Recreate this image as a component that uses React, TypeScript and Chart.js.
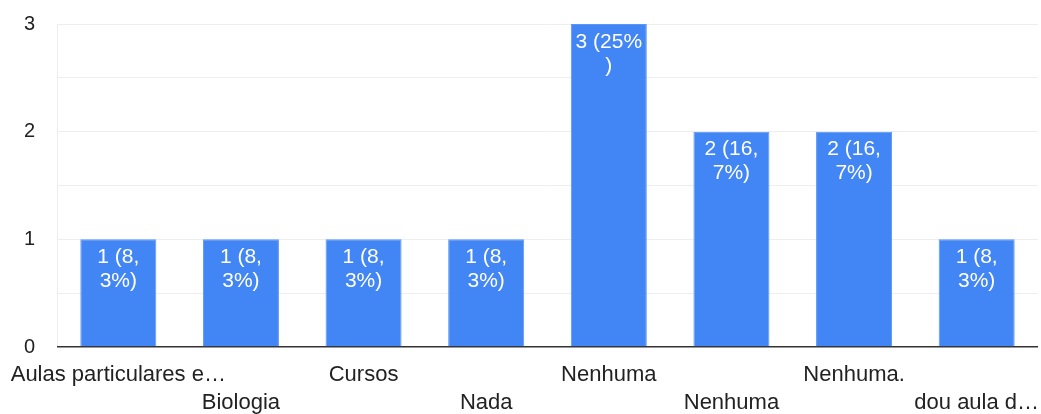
import React, { useEffect, useRef } from "react";
import { Chart, registerables } from "chart.js";

Chart.register(...registerables);

// Answer categories (long answers are truncated with an ellipsis)
const categories: string[] = [
  "Aulas particulares e…",
  "Biologia",
  "Cursos",
  "Nada",
  "Nenhuma",
  "Nenhuma",
  "Nenhuma.",
  "dou aula d…",
];

// Number of responses per category
const counts: number[] = [1, 1, 1, 1, 3, 2, 2, 1];

// Value labels shown inside each bar (count and share, wrapped to bar width)
const valueLabels: string[][] = [
  ["1 (8,", "3%)"],
  ["1 (8,", "3%)"],
  ["1 (8,", "3%)"],
  ["1 (8,", "3%)"],
  ["3 (25%", ")"],
  ["2 (16,", "7%)"],
  ["2 (16,", "7%)"],
  ["1 (8,", "3%)"],
];

const yTicks: number[] = [0, 1, 2, 3];

const FONT = "Arial, 'Liberation Sans', Helvetica, sans-serif";

const barLabelPlugin = {
  id: "barLabels",
  afterDatasetsDraw(chart: any) {
    const ctx = chart.ctx;
    const meta = chart.getDatasetMeta(0);
    ctx.save();
    ctx.fillStyle = "#ffffff";
    ctx.font = `21px ${FONT}`;
    ctx.textAlign = "center";
    ctx.textBaseline = "middle";
    meta.data.forEach((bar: any, i: number) => {
      const lines = valueLabels[i];
      lines.forEach((line, j) => {
        ctx.fillText(line, bar.x, bar.y + 18 + j * 24);
      });
    });
    ctx.restore();
  },
};

export default function App() {
  const canvasRef = useRef<HTMLCanvasElement | null>(null);

  useEffect(() => {
    document.body.style.margin = "0";
    const canvas = canvasRef.current;
    if (!canvas) return;
    // Alternate labels between two rows so they do not collide
    const tickLabels = categories.map((c, i) => (i % 2 === 0 ? [c] : ["", c]));
    const chart = new Chart(canvas, {
      type: "bar",
      data: {
        labels: tickLabels as any,
        datasets: [
          {
            data: counts,
            backgroundColor: "#4285f4",
            borderColor: "#5b96f6",
            borderWidth: 1,
            barPercentage: 0.62,
            categoryPercentage: 1,
          },
        ],
      },
      options: {
        animation: false,
        responsive: false,
        maintainAspectRatio: false,
        layout: { padding: { top: 24, right: 3, bottom: 0, left: 0 } },
        plugins: {
          legend: { display: false },
          tooltip: { enabled: false },
        },
        scales: {
          x: {
            afterFit(scale: any) {
              scale.height = 67;
              scale.paddingLeft = 0;
              scale.paddingRight = 0;
            },
            border: { display: false },
            grid: {
              offset: true,
              drawTicks: false,
              color: (c: any) =>
                c.index === 0 || c.index === categories.length ? "#ececec" : "rgba(0,0,0,0)",
            },
            ticks: {
              autoSkip: false,
              maxRotation: 0,
              minRotation: 0,
              padding: 14,
              color: "#222222",
              font: { family: FONT, size: 22, lineHeight: 1.27 },
            },
          },
          y: {
            min: 0,
            max: 3,
            afterFit(scale: any) {
              scale.width = 57;
              scale.paddingTop = 0;
              scale.paddingBottom = 0;
            },
            afterBuildTicks(scale: any) {
              const t: any[] = [];
              for (let v = 0; v <= 3; v += 0.5) t.push({ value: v });
              scale.ticks = t;
            },
            border: { display: false },
            grid: {
              drawTicks: false,
              color: (c: any) => (c.tick && c.tick.value === 0 ? "#333333" : "#eeeeee"),
              lineWidth: (c: any) => (c.tick && c.tick.value === 0 ? 1.5 : 1),
            },
            ticks: {
              padding: 22,
              color: "#222222",
              font: { family: FONT, size: 20 },
              callback: (v: any) => (yTicks.includes(Number(v)) ? String(v) : ""),
            },
          },
        },
      },
      plugins: [barLabelPlugin],
    });
    return () => chart.destroy();
  }, []);

  return <canvas ref={canvasRef} width={1041} height={414} style={{ display: "block" }} />;
}
